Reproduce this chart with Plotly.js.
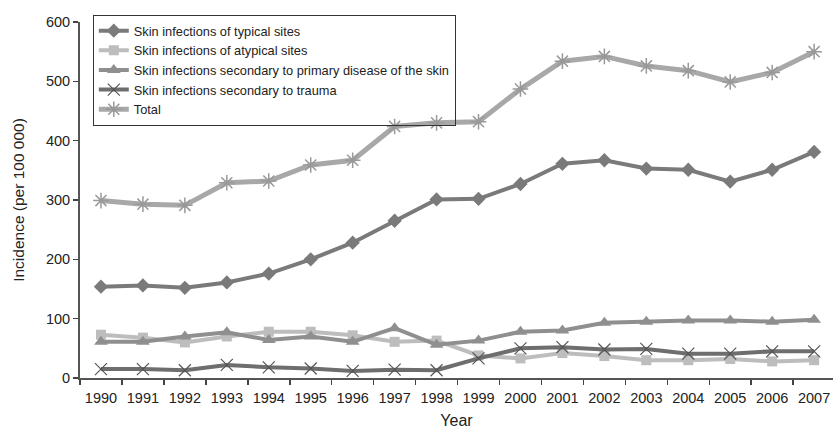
<!DOCTYPE html>
<html>
<head>
<meta charset="utf-8">
<script src="https://cdn.plot.ly/plotly-3.0.1.min.js"></script>
<style>html,body{margin:0;padding:0;background:#fff;}#chart{width:833px;height:429px;}</style>
</head>
<body>
<div id="chart"></div>
<script>
const years = [1990,1991,1992,1993,1994,1995,1996,1997,1998,1999,2000,2001,2002,2003,2004,2005,2006,2007];
const typicalSites = [154,156,152,161,176,200,228,265,301,302,327,361,367,353,351,331,351,381];
const atypicalSites = [73,68,60,70,78,78,72,61,63,38,33,42,37,30,30,32,28,30];
const primaryDisease = [61,61,70,77,64,70,61,84,56,63,78,80,93,95,97,97,95,98];
const trauma = [15,15,13,22,18,16,12,14,13,33,50,52,48,49,41,41,45,45];
const total = [299,293,291,329,332,359,367,424,430,432,487,534,542,526,518,499,515,550];

const seriesNames = [
  'Skin infections of typical sites',
  'Skin infections of atypical sites',
  'Skin infections secondary to primary disease of the skin',
  'Skin infections secondary to trauma',
  'Total'
];

const font = 'Liberation Sans, Arial, Helvetica, sans-serif';

const traces = [
  {x: years, y: typicalSites, name: seriesNames[0], mode: 'lines+markers',
   line: {color: '#7a7a7a', width: 4}, marker: {symbol: 'diamond', size: 11, color: '#7a7a7a'}},
  {x: years, y: atypicalSites, name: seriesNames[1], mode: 'lines+markers',
   line: {color: '#bdbdbd', width: 4}, marker: {symbol: 'square', size: 10, color: '#bdbdbd'}},
  {x: years, y: primaryDisease, name: seriesNames[2], mode: 'lines+markers',
   line: {color: '#8f8f8f', width: 4}, marker: {symbol: 'triangle-up', size: 12, color: '#8f8f8f'}},
  {x: years, y: trauma, name: seriesNames[3], mode: 'lines+markers',
   line: {color: '#6e6e6e', width: 4}, marker: {symbol: 'x-thin-open', size: 12, color: '#555555', line: {color: '#555555', width: 1.2}}},
  {x: years, y: total, name: seriesNames[4], mode: 'lines+markers',
   line: {color: '#a8a8a8', width: 5}, marker: {symbol: 'asterisk-open', size: 13, color: '#999999', line: {color: '#999999', width: 1.5}}}
];
traces.forEach(t => { t.cliponaxis = false; });

const layout = {
  width: 833, height: 429,
  margin: {l: 80, r: 0, t: 22, b: 51},
  paper_bgcolor: '#fff', plot_bgcolor: '#fff',
  font: {family: font, color: '#222', size: 13},
  showlegend: true,
  legend: {
    x: 0.017, y: 1.02, xanchor: 'left', yanchor: 'top',
    bordercolor: '#333', borderwidth: 1, bgcolor: 'rgba(255,255,255,0)',
    font: {family: font, size: 12.8, color: '#222'},
    tracegroupgap: 0
  },
  xaxis: {
    range: [1989.5, 2007.45],
    tickmode: 'array', tickvals: years, ticktext: years.map(String),
    ticks: 'outside', ticklen: 0, ticklabeloverflow: 'allow', ticklabelstandoff: 6,
    minor: {tick0: 1989.5, dtick: 1, ticks: 'outside', ticklen: 5, tickwidth: 1.5, tickcolor: '#444', showgrid: false},
    showline: true, linecolor: '#555', linewidth: 2,
    showgrid: false, zeroline: false,
    tickfont: {family: font, size: 14.5, color: '#222'},
    title: {text: 'Year', font: {family: font, size: 16, color: '#222'}, standoff: 19}
  },
  yaxis: {
    range: [0, 600],
    tickmode: 'array', tickvals: [0,100,200,300,400,500,600],
    ticks: 'outside', ticklen: 5, tickwidth: 1.5, tickcolor: '#444',
    showline: true, linecolor: '#555', linewidth: 2,
    showgrid: false, zeroline: false,
    tickfont: {family: font, size: 14.5, color: '#222'},
    title: {text: 'Incidence (per 100 000)', font: {family: font, size: 15.5, color: '#222'}, standoff: 17}
  }
};

Plotly.newPlot('chart', traces, layout, {displayModeBar: false, staticPlot: true});
</script>
</body>
</html>
